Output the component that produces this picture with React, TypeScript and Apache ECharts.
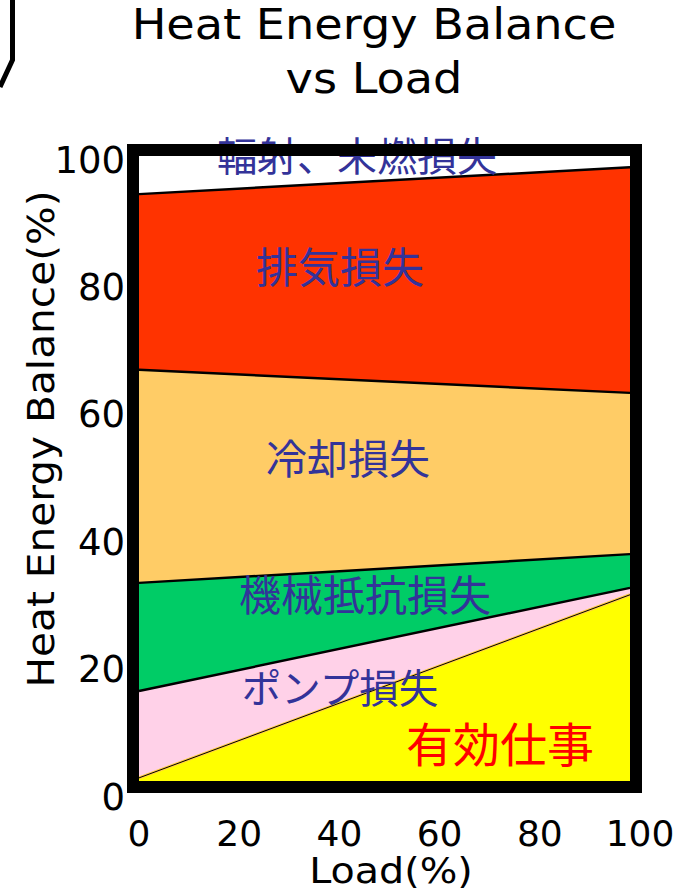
import React, { useEffect, useRef } from "react";
import * as echarts from "echarts";

const loads = ["0", "100"];
const usefulWork = [0.5, 29.8];
const pumpLoss = [13.9, 1.1];
const mechLoss = [17.3, 5.4];
const coolingLoss = [34.1, 25.8];
const exhaustLoss = [28.1, 36.1];
const radiationLoss = [6.1, 1.8];

const seriesDefs = [
  { name: "有効仕事", values: usefulWork, color: "#FFFF00", line: "#FFCC44", lw: 3 },
  { name: "ポンプ損失", values: pumpLoss, color: "#FFD1E8", line: "#000000", lw: 2.5 },
  { name: "機械抵抗損失", values: mechLoss, color: "#00CC66", line: "#000000", lw: 2.5 },
  { name: "冷却損失", values: coolingLoss, color: "#FFCC66", line: "#000000", lw: 2.5 },
  { name: "排気損失", values: exhaustLoss, color: "#FF3300", line: "#000000", lw: 2.5 },
  { name: "輻射、未燃損失", values: radiationLoss, color: "#FFFFFF", line: "#000000", lw: 0 },
];

const LATIN = "DejaVu Sans";
const CJK = "Noto Sans CJK JP";

export default function App() {
  const ref = useRef<HTMLDivElement>(null);
  useEffect(() => {
    document.body.style.margin = "0";
    const chart = echarts.init(ref.current!, null, { renderer: "svg" });
    const gL = 139, gT = 156, gW = 491, gH = 625;
    const bw = 12;
    chart.setOption({
      animation: false,
      backgroundColor: "#FFFFFF",
      grid: [
        { left: gL, top: gT, width: gW, height: gH },
        { left: 139, top: 160, width: 501, height: 637 },
      ],
      xAxis: [
        { type: "category", gridIndex: 0, data: loads, boundaryGap: false, show: false },
        {
          type: "value", gridIndex: 1, min: 0, max: 100, interval: 20,
          axisLine: { show: false }, axisTick: { show: false }, splitLine: { show: false },
          axisLabel: { margin: 18, color: "#000", fontSize: 36, fontFamily: LATIN },
        },
      ],
      yAxis: [
        { type: "value", gridIndex: 0, min: 0, max: 100, show: false },
        {
          type: "value", gridIndex: 1, min: 0, max: 100, interval: 20,
          axisLine: { show: false }, axisTick: { show: false }, splitLine: { show: false },
          axisLabel: { margin: 14, color: "#000", fontSize: 37, fontFamily: LATIN },
        },
      ],
      series: [
        ...seriesDefs.map((s) => ({
          name: s.name,
          type: "line",
          xAxisIndex: 0,
          yAxisIndex: 0,
          stack: "total",
          symbol: "none",
          data: s.values,
          lineStyle: { color: s.line, width: s.lw },
          areaStyle: { color: s.color, opacity: 1 },
          z: 2,
        })),
        {
          name: "有効仕事-line",
          type: "line",
          xAxisIndex: 0,
          yAxisIndex: 0,
          symbol: "none",
          data: usefulWork,
          lineStyle: { color: "#000000", width: 1 },
          z: 3,
        },
      ],
      graphic: [
        {
          type: "text", x: 374, y: 51, z: 5, scaleX: 1.1,
          style: {
            text: "Heat Energy Balance\nvs Load", x: 0, y: 0, align: "center", verticalAlign: "middle",
            fontSize: 42, lineHeight: 54, fontFamily: LATIN, fill: "#000",
          },
        },
        {
          type: "text", x: 40, y: 439, rotation: Math.PI / 2, z: 5, scaleX: 1.07,
          style: {
            text: "Heat Energy Balance(%)", align: "center", verticalAlign: "middle",
            fontSize: 38, fontFamily: LATIN, fill: "#000",
          },
        },
        {
          type: "text", x: 391, y: 871, z: 5, scaleX: 1.1,
          style: {
            text: "Load(%)", align: "center", verticalAlign: "middle",
            fontSize: 36, fontFamily: LATIN, fill: "#000",
          },
        },
        ...[
          { t: "輻射、未燃損失", x: 357, y: 154, c: "#333399", f: 40 },
          { t: "排気損失", x: 340, y: 264, c: "#333399", f: 42 },
          { t: "冷却損失", x: 348, y: 456, c: "#333399", f: 41 },
          { t: "機械抵抗損失", x: 365, y: 592, c: "#333399", f: 42 },
          { t: "ポンプ損失", x: 340, y: 685, c: "#333399", f: 39.5 },
          { t: "有効仕事", x: 500, y: 741, c: "#FF0000", f: 47 },
        ].map((l) => ({
          type: "text", x: l.x, y: l.y, z: 10,
          style: { text: l.t, align: "center", verticalAlign: "middle", fontSize: l.f, fontFamily: CJK, fill: l.c },
        })),
        {
          type: "rect", z: 20,
          shape: { x: gL - bw / 2, y: gT - bw / 2, width: gW + bw, height: gH + bw },
          style: { fill: "none", stroke: "#000", lineWidth: bw },
        },
        {
          type: "polyline", z: 20,
          shape: { points: [[12.5, 0], [12.5, 60], [0, 87]] },
          style: { fill: "none", stroke: "#000", lineWidth: 5 },
        },
      ],
    });
    return () => chart.dispose();
  }, []);
  return <div ref={ref} style={{ position: "fixed", left: 0, top: 0, width: 697, height: 892 }} />;
}
